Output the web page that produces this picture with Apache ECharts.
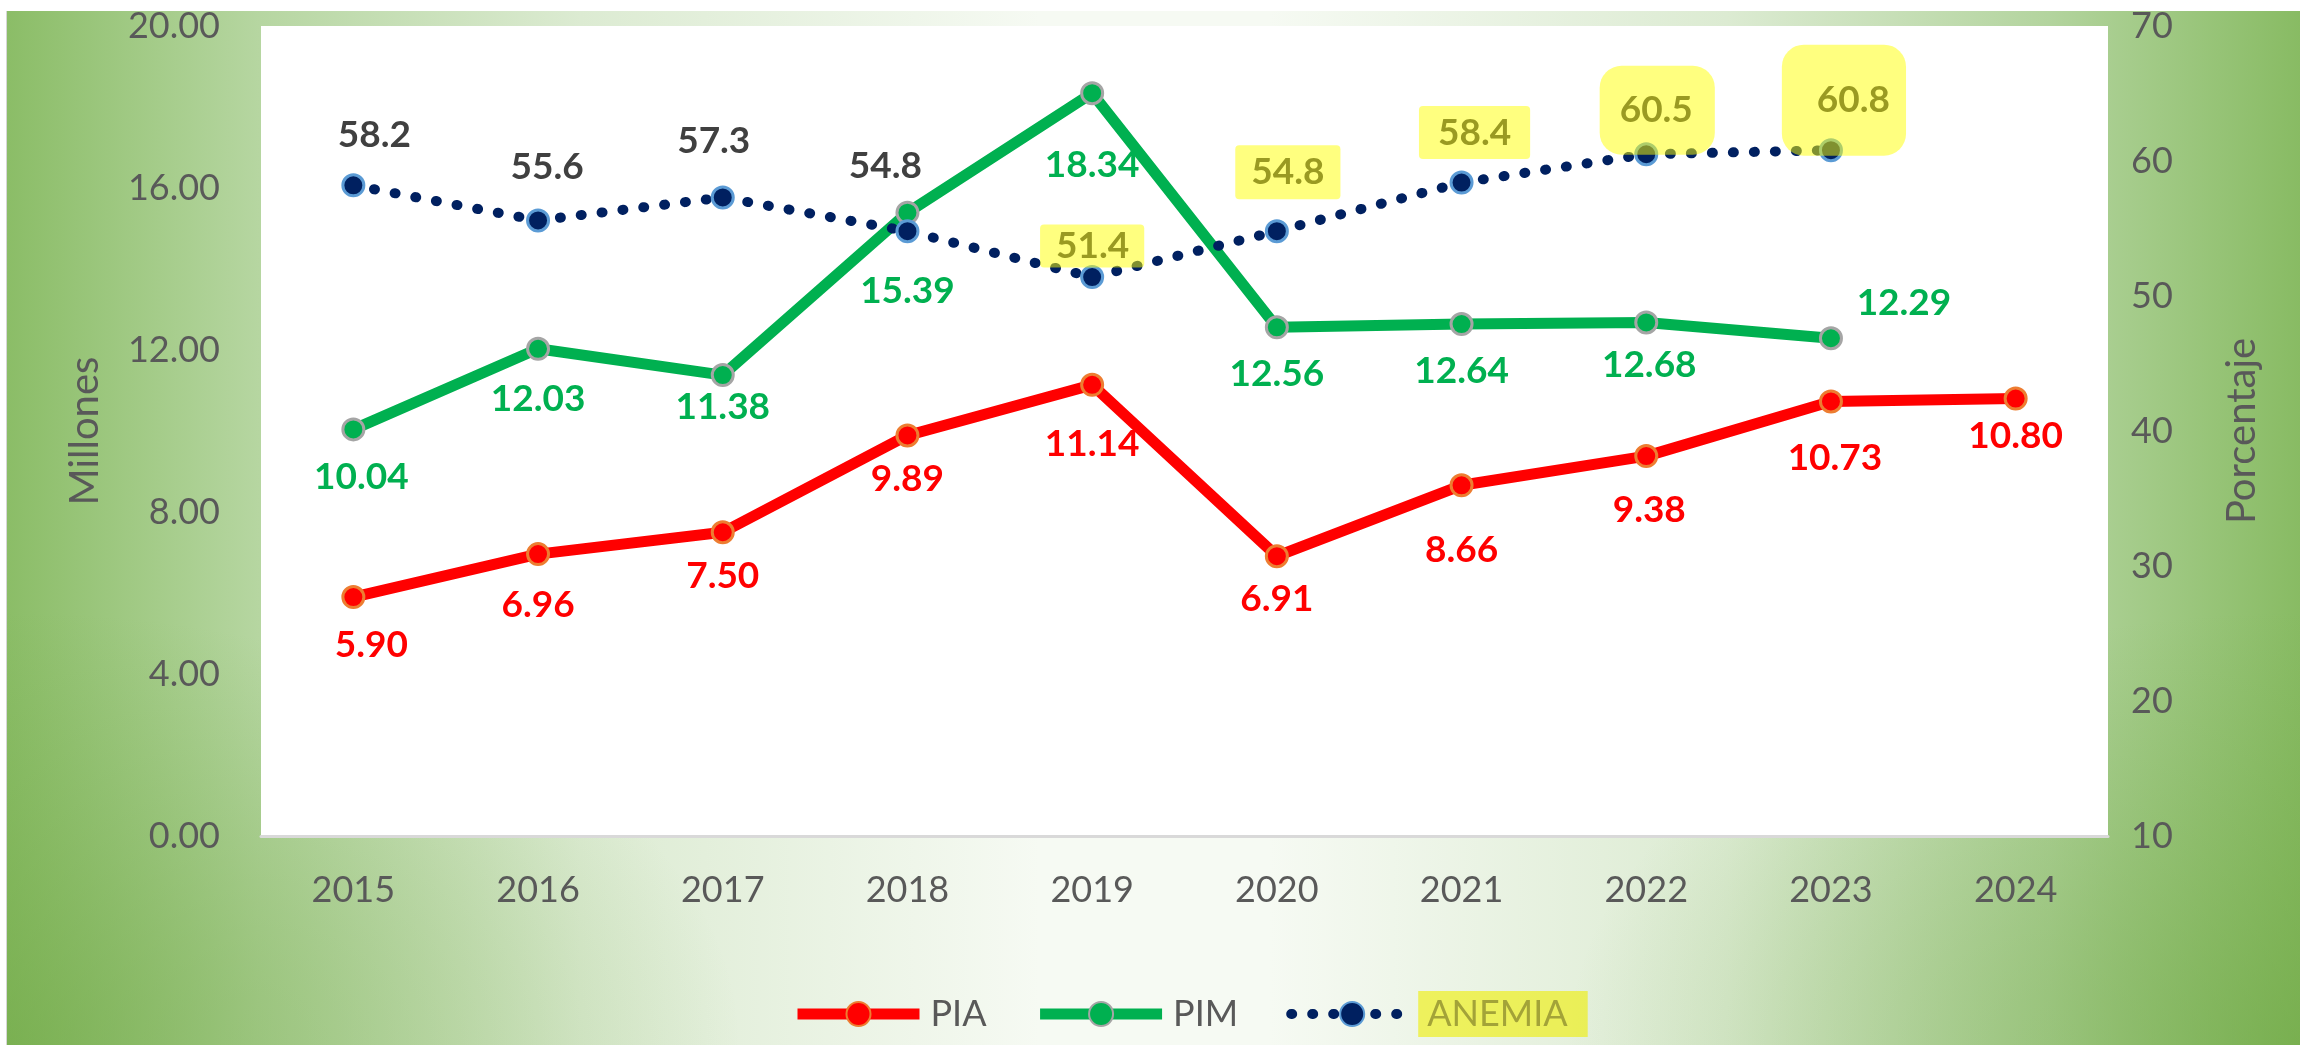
<!DOCTYPE html>
<html>
<head>
<meta charset="utf-8">
<title>PIA PIM ANEMIA</title>
<script src="https://cdn.jsdelivr.net/npm/echarts@6/dist/echarts.min.js"></script>
<style>
  body { margin: 0; background: #fff; }
  #bg {
    position: absolute; left: 6px; top: 11px; width: 2294px; height: 1034px;
    border-left: 1px solid #d6d6d6;
    background:
      radial-gradient(ellipse 32% 42% at 0% 100%, rgba(108,166,64,0.55), rgba(108,166,64,0) 100%),
      radial-gradient(ellipse 32% 42% at 100% 100%, rgba(108,166,64,0.55), rgba(108,166,64,0) 100%),
      linear-gradient(90deg, #8bbd67 0%, #b6d6a1 11%, #dcebd2 25%, #f6faf3 45%, #f6faf3 55%, #dcebd2 75%, #b3d49e 89%, #88bb63 100%);
  }
  #main { position: absolute; left: 0; top: 0; width: 2300px; height: 1045px; }
</style>
</head>
<body>
<div id="bg"></div>
<div id="main"></div>
<script type="text/javascript">
    // datos
    const years = ['2015', '2016', '2017', '2018', '2019', '2020', '2021', '2022', '2023', '2024'];
    const pia = [5.90, 6.96, 7.50, 9.89, 11.14, 6.91, 8.66, 9.38, 10.73, 10.80];
    const pim = [10.04, 12.03, 11.38, 15.39, 18.34, 12.56, 12.64, 12.68, 12.29, null];
    const anemia = [58.2, 55.6, 57.3, 54.8, 51.4, 54.8, 58.4, 60.5, 60.8, null];

    // posicion de etiquetas (respecto al punto)
    const piaOff = [[18, 48], [0, 51], [0, 44], [0, 44], [0, 59], [0, 43], [0, 65], [3, 54], [4, 57], [0, 37]];
    const pimOff = [[8, 48], [0, 50], [0, 32], [0, 78], [0, 72], [0, 47], [0, 47], [3, 43], [73, -35], [0, 0]];
    const anOff = [[21, -50], [9, -53], [-9, -56], [-22, -65], [0, -31], [11, -59], [13, -50], [11, -44], [13, -50], [0, 0]];
    // resaltado amarillo (padding de cada caja)
    const anPad = [null, null, null, null, [1, 15, 2, 16], [7, 16, 7, 16], [6, 19, 7, 19], [23, 22, 26, 20], [30, 16, 41, 35], null];

    const font = 'Lato, "Liberation Sans", sans-serif';
    const grey = '#595959';

    const myChart = echarts.init(document.getElementById('main'));

    const option = {
        backgroundColor: 'transparent',
        textStyle: {fontFamily: font},
        grid: {
            left: 261, right: 192, top: 26, bottom: 209,
            show: true, backgroundColor: '#ffffff', borderWidth: 0
        },
        legend: {
            left: 787, top: 986,
            itemWidth: 122, itemHeight: 30, itemGap: 48,
            textStyle: {fontSize: 36, color: grey, fontFamily: font, padding: [0, 0, 0, 6]},
            data: [
                {name: 'PIA', lineStyle: {width: 11}},
                {name: 'PIM', lineStyle: {width: 11}},
                {name: 'ANEMIA', lineStyle: {width: 10}, textStyle: {
                    backgroundColor: 'rgba(238,238,0,0.6)', color: '#a3a338',
                    padding: [5, 20, 5, 9]
                }}
            ]
        },
        xAxis: {
            type: 'category',
            data: years,
            boundaryGap: true,
            axisLine: {lineStyle: {color: '#d9d9d9', width: 3}},
            axisTick: {show: false},
            axisLabel: {margin: 36, fontSize: 36, color: grey, fontFamily: font}
        },
        yAxis: [{
            type: 'value', min: 0, max: 20, interval: 4,
            name: 'Millones', nameLocation: 'middle', nameRotate: 90, nameGap: 156,
            nameTextStyle: {fontSize: 40, color: grey, fontFamily: font},
            axisLine: {show: false}, axisTick: {show: false}, splitLine: {show: false},
            axisLabel: {margin: 41, fontSize: 36, color: grey, fontFamily: font,
                formatter: v => v.toFixed(2)}
        }, {
            type: 'value', min: 10, max: 70, interval: 10, position: 'right',
            name: 'Porcentaje', nameLocation: 'middle', nameRotate: 90, nameGap: 114,
            nameTextStyle: {fontSize: 40, color: grey, fontFamily: font},
            axisLine: {show: false}, axisTick: {show: false}, splitLine: {show: false},
            axisLabel: {margin: 23, fontSize: 36, color: grey, fontFamily: font}
        }],
        series: [{
            name: 'PIA', type: 'line', yAxisIndex: 0,
            symbol: 'circle', symbolSize: 21,
            lineStyle: {color: '#ff0000', width: 11},
            itemStyle: {color: '#ff0000', borderColor: '#ed7d31', borderWidth: 3},
            label: {show: true, position: 'inside', color: '#ff0000', fontWeight: 'bold',
                fontSize: 37, lineHeight: 40, fontFamily: font,
                formatter: p => p.value.toFixed(2)},
            data: pia.map((v, i) => ({value: v, label: {offset: piaOff[i]}}))
        }, {
            name: 'PIM', type: 'line', yAxisIndex: 0,
            symbol: 'circle', symbolSize: 21,
            lineStyle: {color: '#00b050', width: 11},
            itemStyle: {color: '#00b050', borderColor: '#a5a5a5', borderWidth: 3},
            label: {show: true, position: 'inside', color: '#00b050', fontWeight: 'bold',
                fontSize: 37, lineHeight: 40, fontFamily: font,
                formatter: p => p.value == null ? '' : p.value.toFixed(2)},
            data: pim.map((v, i) => ({value: v, label: {offset: pimOff[i]}}))
        }, {
            name: 'ANEMIA', type: 'line', yAxisIndex: 1,
            symbol: 'circle', symbolSize: 21,
            lineStyle: {color: '#002060', width: 10, type: [1, 20], cap: 'round'},
            itemStyle: {color: '#002060', borderColor: '#5b9bd5', borderWidth: 3},
            label: {show: true, position: 'inside', color: '#404040', fontWeight: 'bold',
                fontSize: 37, lineHeight: 40, fontFamily: font,
                formatter: p => p.value == null ? '' : p.value.toFixed(1)},
            data: anemia.map((v, i) => {
                const lab = {offset: anOff[i]};
                if (anPad[i]) {
                    lab.backgroundColor = 'rgba(255,255,0,0.5)';
                    lab.color = '#9a9a22';
                    lab.padding = anPad[i];
                    lab.borderRadius = i >= 7 ? 22 : 4;
                }
                return {value: v, label: lab};
            })
        }]
    };

    myChart.setOption(option);
</script>
</body>
</html>
